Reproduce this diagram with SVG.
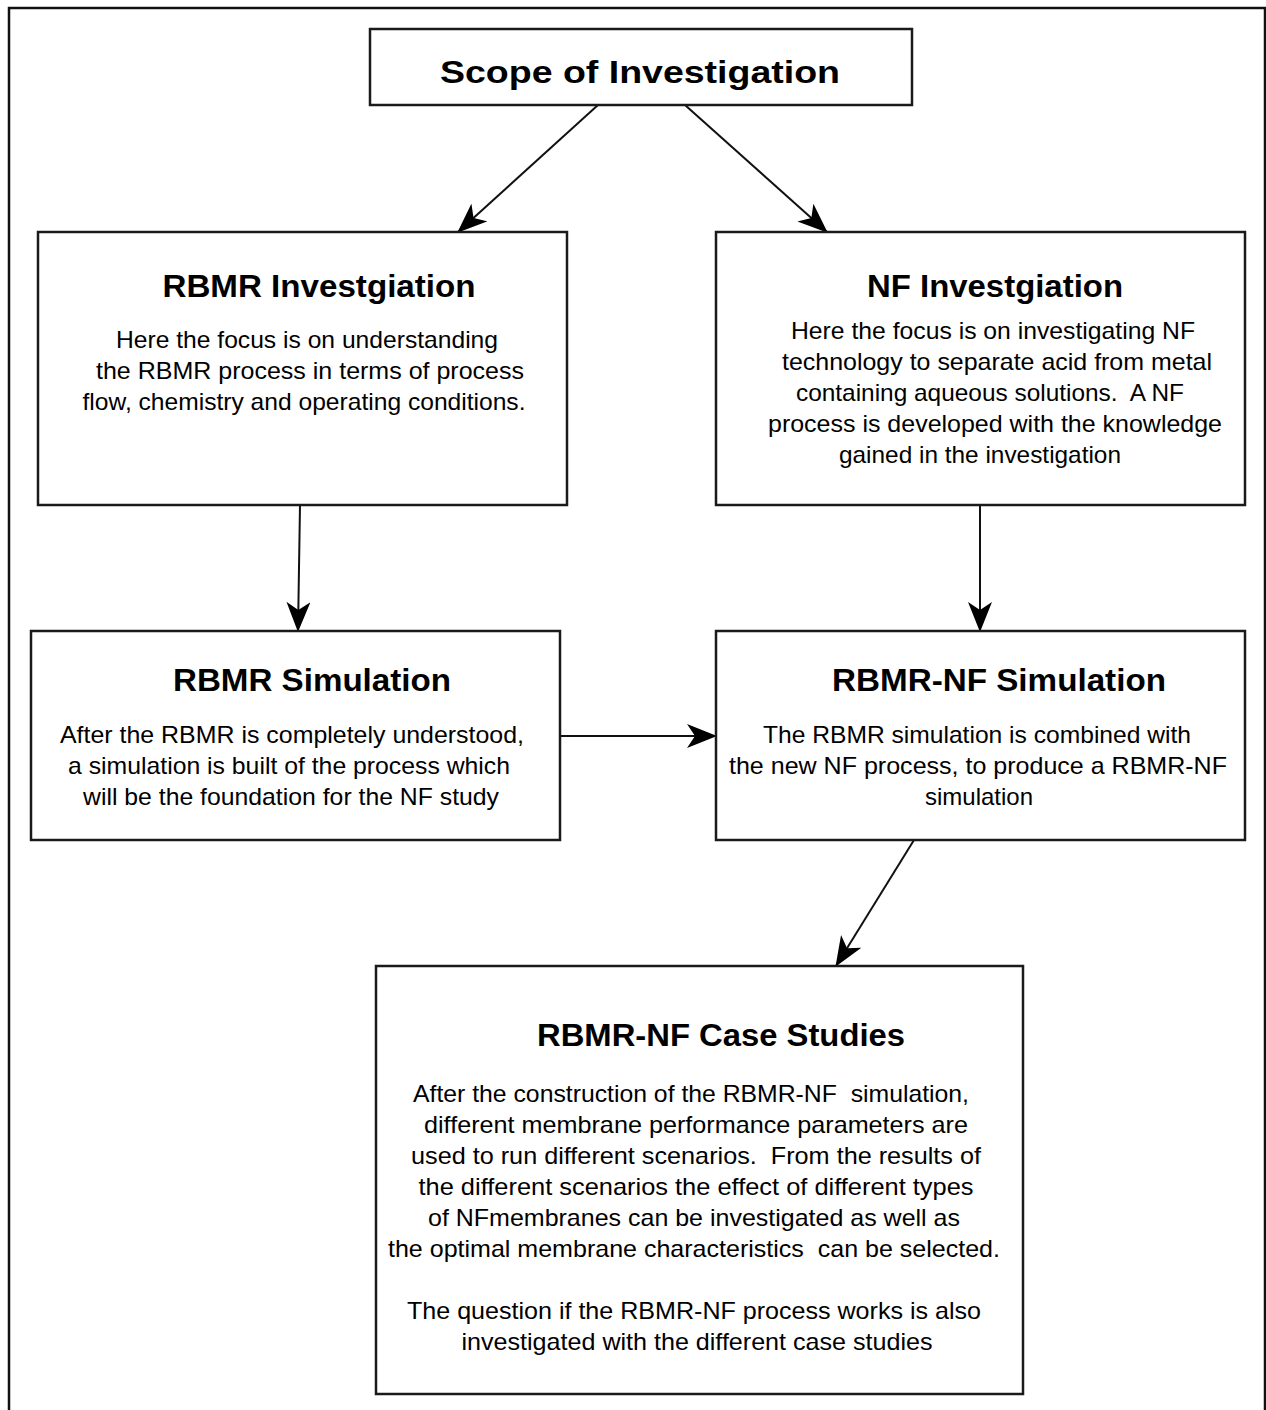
<svg xmlns="http://www.w3.org/2000/svg" width="1266" height="1410" viewBox="0 0 1266 1410">
  <style>
    .frame { fill: none; stroke: #111; stroke-width: 2.5; }
    .box { fill: #fff; stroke: #1a1a1a; stroke-width: 2.5; }
    .title { font-family: "Liberation Sans", Arial, sans-serif; font-weight: bold; font-size: 31px; fill: #000; text-anchor: middle; }
    .body { font-family: "Liberation Sans", Arial, sans-serif; font-size: 24px; fill: #000; text-anchor: middle; white-space: pre; }
    .link { fill: none; stroke: #111; stroke-width: 2; marker-end: url(#head); }
  </style>
  <defs>
    <marker id="head" viewBox="0 0 30 24" refX="29" refY="12" markerWidth="30" markerHeight="24" markerUnits="userSpaceOnUse" orient="auto">
      <path d="M0,0 L30,12 L0,24 L8,12 Z" fill="#000"/>
    </marker>
  </defs>

  <rect width="1266" height="1410" fill="#fff"/>
  <rect class="frame" x="9" y="8" width="1256" height="1420"/>

  <g id="connectors">
    <line class="link" x1="598" y1="105" x2="458" y2="232"/>
    <line class="link" x1="685" y1="105" x2="827" y2="232"/>
    <line class="link" x1="300" y1="505" x2="298" y2="631"/>
    <line class="link" x1="980" y1="505" x2="980" y2="631"/>
    <line class="link" x1="560" y1="736" x2="716" y2="736"/>
    <line class="link" x1="914" y1="840" x2="836" y2="966"/>
  </g>

  <g id="scope">
    <rect class="box" x="370" y="29" width="542" height="76"/>
    <text class="title" x="640" y="83" font-size="35" textLength="400" lengthAdjust="spacingAndGlyphs">Scope of Investigation</text>
  </g>

  <g id="rbmr-investigation">
    <rect class="box" x="38" y="232" width="529" height="273"/>
    <text class="title" x="319" y="297" textLength="313" lengthAdjust="spacingAndGlyphs">RBMR Investgiation</text>
    <text class="body" x="307" y="348" textLength="382" lengthAdjust="spacingAndGlyphs">Here the focus is on understanding</text>
    <text class="body" x="310" y="379" textLength="428" lengthAdjust="spacingAndGlyphs">the RBMR process in terms of process</text>
    <text class="body" x="304" y="410" textLength="443" lengthAdjust="spacingAndGlyphs">flow, chemistry and operating conditions.</text>
  </g>

  <g id="nf-investigation">
    <rect class="box" x="716" y="232" width="529" height="273"/>
    <text class="title" x="995" y="297" textLength="256" lengthAdjust="spacingAndGlyphs">NF Investgiation</text>
    <text class="body" x="993" y="339" textLength="404" lengthAdjust="spacingAndGlyphs">Here the focus is on investigating NF</text>
    <text class="body" x="997" y="370" textLength="430" lengthAdjust="spacingAndGlyphs">technology to separate acid from metal</text>
    <text class="body" x="990" y="401" textLength="388" lengthAdjust="spacingAndGlyphs">containing aqueous solutions.  A NF</text>
    <text class="body" x="995" y="432" textLength="454" lengthAdjust="spacingAndGlyphs">process is developed with the knowledge</text>
    <text class="body" x="980" y="463" textLength="282" lengthAdjust="spacingAndGlyphs">gained in the investigation</text>
  </g>

  <g id="rbmr-simulation">
    <rect class="box" x="31" y="631" width="529" height="209"/>
    <text class="title" x="312" y="691" textLength="278" lengthAdjust="spacingAndGlyphs">RBMR Simulation</text>
    <text class="body" x="292" y="743" textLength="464" lengthAdjust="spacingAndGlyphs">After the RBMR is completely understood,</text>
    <text class="body" x="289" y="774" textLength="442" lengthAdjust="spacingAndGlyphs">a simulation is built of the process which</text>
    <text class="body" x="291" y="805" textLength="416" lengthAdjust="spacingAndGlyphs">will be the foundation for the NF study</text>
  </g>

  <g id="rbmr-nf-simulation">
    <rect class="box" x="716" y="631" width="529" height="209"/>
    <text class="title" x="999" y="691" textLength="334" lengthAdjust="spacingAndGlyphs">RBMR-NF Simulation</text>
    <text class="body" x="977" y="743" textLength="428" lengthAdjust="spacingAndGlyphs">The RBMR simulation is combined with</text>
    <text class="body" x="978" y="774" textLength="498" lengthAdjust="spacingAndGlyphs">the new NF process, to produce a RBMR-NF</text>
    <text class="body" x="979" y="805" textLength="108" lengthAdjust="spacingAndGlyphs">simulation</text>
  </g>

  <g id="rbmr-nf-case-studies">
    <rect class="box" x="376" y="966" width="647" height="428"/>
    <text class="title" x="721" y="1046" textLength="368" lengthAdjust="spacingAndGlyphs">RBMR-NF Case Studies</text>
    <text class="body" x="691" y="1102" textLength="556" lengthAdjust="spacingAndGlyphs">After the construction of the RBMR-NF  simulation,</text>
    <text class="body" x="696" y="1133" textLength="544" lengthAdjust="spacingAndGlyphs">different membrane performance parameters are</text>
    <text class="body" x="696" y="1164" textLength="570" lengthAdjust="spacingAndGlyphs">used to run different scenarios.  From the results of</text>
    <text class="body" x="696" y="1195" textLength="555" lengthAdjust="spacingAndGlyphs">the different scenarios the effect of different types</text>
    <text class="body" x="694" y="1226" textLength="532" lengthAdjust="spacingAndGlyphs">of NFmembranes can be investigated as well as</text>
    <text class="body" x="694" y="1257" textLength="612" lengthAdjust="spacingAndGlyphs">the optimal membrane characteristics  can be selected.</text>
    <text class="body" x="694" y="1319" textLength="574" lengthAdjust="spacingAndGlyphs">The question if the RBMR-NF process works is also</text>
    <text class="body" x="697" y="1350" textLength="471" lengthAdjust="spacingAndGlyphs">investigated with the different case studies</text>
  </g>
</svg>
